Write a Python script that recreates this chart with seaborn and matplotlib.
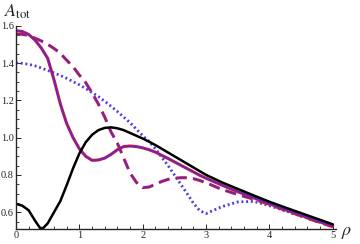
import numpy as np
import pandas as pd
import seaborn as sns
import matplotlib
matplotlib.use("Agg")
import matplotlib.pyplot as plt
from matplotlib.ticker import MultipleLocator

# values
rho = [0.0, 0.1, 0.2, 0.3, 0.4, 0.5, 0.6, 0.7, 0.8, 0.9,
       1.0, 1.1, 1.2, 1.3, 1.4, 1.5, 1.6, 1.7, 1.8, 1.9,
       2.0, 2.1, 2.2, 2.3, 2.4, 2.5, 2.6, 2.7, 2.8, 2.9,
       3.0, 3.25, 3.5, 3.75, 4.0, 4.25, 4.5, 4.75, 5.0]

a_black = [0.645, 0.635, 0.61, 0.555, 0.505, 0.54, 0.60, 0.66, 0.745, 0.835,
           0.915, 0.975, 1.015, 1.04, 1.052, 1.055, 1.05, 1.04, 1.025, 1.01,
           0.995, 0.978, 0.96, 0.94, 0.92, 0.90, 0.88, 0.86, 0.84, 0.82,
           0.80, 0.76, 0.725, 0.69, 0.656, 0.625, 0.595, 0.565, 0.535]

a_solid = [1.573, 1.569, 1.553, 1.523, 1.48, 1.425, 1.31, 1.18, 1.075, 1.0,
           0.94, 0.90, 0.878, 0.88, 0.89, 0.91, 0.935, 0.952, 0.955, 0.952,
           0.945, 0.935, 0.922, 0.905, 0.888, 0.87, 0.852, 0.834, 0.816, 0.798,
           0.782, 0.745, 0.71, 0.677, 0.645, 0.613, 0.583, 0.553, 0.525]

a_dashed = [1.554, 1.554, 1.548, 1.533, 1.518, 1.50, 1.478, 1.452, 1.415, 1.38,
            1.335, 1.295, 1.24, 1.18, 1.11, 1.03, 0.97, 0.89, 0.81, 0.76,
            0.732, 0.735, 0.75, 0.765, 0.776, 0.782, 0.785, 0.785, 0.78, 0.77,
            0.758, 0.722, 0.695, 0.67, 0.642, 0.61, 0.58, 0.55, 0.522]

a_dotted = [1.40, 1.398, 1.393, 1.385, 1.373, 1.36, 1.347, 1.333, 1.318, 1.30,
            1.283, 1.263, 1.242, 1.22, 1.195, 1.168, 1.14, 1.11, 1.08, 1.045,
            1.01, 0.98, 0.94, 0.895, 0.85, 0.80, 0.75, 0.70, 0.648, 0.608,
            0.593, 0.63, 0.655, 0.658, 0.635, 0.607, 0.578, 0.551, 0.524]

sns.set_style("ticks")
plt.rcParams['font.family'] = ['Liberation Serif', 'DejaVu Serif']
plt.rcParams['mathtext.fontset'] = 'stix'
plt.rcParams['lines.scale_dashes'] = False

red = "#e0142a"
blue = "#3a32f0"

fig = plt.figure(figsize=(3.6, 2.44), dpi=100)
ax = fig.add_axes([16 / 360, 15 / 244, 320 / 360, 203.3 / 244])

# dotted curve
sns.lineplot(x=rho, y=a_dotted, ax=ax, color="#4a3ce6", lw=2.0,
             linestyle=(0, (1.4, 2.0)), sort=False)
# dashed curve (red under, blue thin on top)
sns.lineplot(x=rho, y=a_dashed, ax=ax, color=red, lw=2.2,
             linestyle=(0, (8, 4.5)), sort=False)
sns.lineplot(x=rho, y=a_dashed, ax=ax, color=blue, lw=0.9,
             linestyle=(0, (8, 4.5)), sort=False)
# solid red/blue curve
sns.lineplot(x=rho, y=a_solid, ax=ax, color=red, lw=2.2, sort=False)
sns.lineplot(x=rho, y=a_solid, ax=ax, color=blue, lw=0.9, sort=False)
# black curve
sns.lineplot(x=rho, y=a_black, ax=ax, color="black", lw=1.8, sort=False)

ax.set_xlim(0, 5.05)
ax.set_ylim(0.51, 1.6)
sns.despine(ax=ax)
for s in ["left", "bottom"]:
    ax.spines[s].set_linewidth(1.0)

ax.xaxis.set_major_locator(MultipleLocator(1))
ax.xaxis.set_minor_locator(MultipleLocator(0.2))
ax.yaxis.set_major_locator(MultipleLocator(0.2))
ax.yaxis.set_minor_locator(MultipleLocator(0.05))
ax.set_yticks([0.6, 0.8, 1.0, 1.2, 1.4, 1.6])
ax.set_yticklabels(["0.6", "0.8", "1.0", "1.2", "1.4", "1.6"])
ax.tick_params(which="major", direction="in", length=3.5, width=0.7,
               labelsize=7.5, pad=1.5)
ax.tick_params(which="minor", direction="in", length=2, width=0.6)

fig.text(4 / 360, 1 - 17 / 244, r"$A_{\rm tot}$", fontsize=13)
fig.text(341 / 360, 1 - 235 / 244, r"$\rho$", fontsize=13)

fig.savefig("out.png", dpi=100)
